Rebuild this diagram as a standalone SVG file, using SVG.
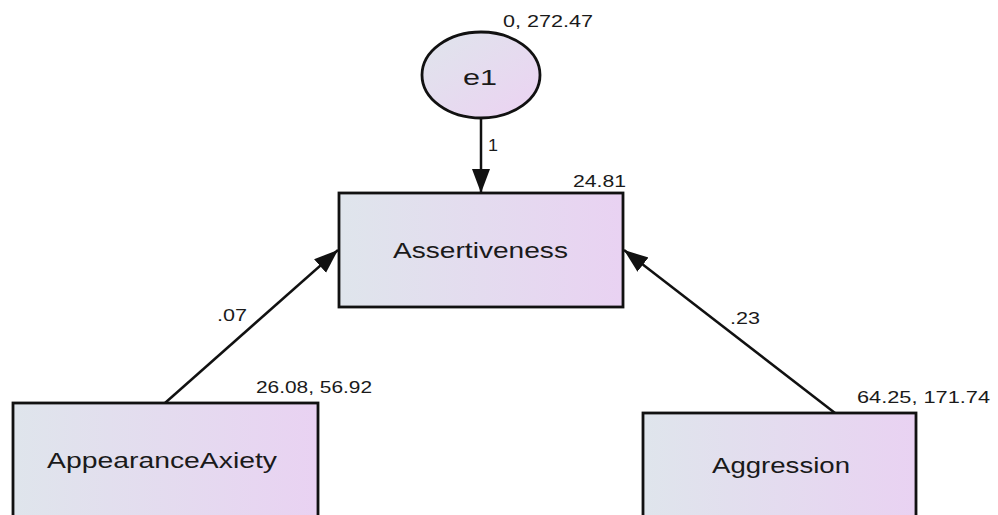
<svg xmlns="http://www.w3.org/2000/svg" width="998" height="515" viewBox="0 0 998 515">
<style>
.box{stroke:#111;stroke-width:2.8}
.lbl{font-family:"Liberation Sans",Arial,sans-serif;font-size:22px;fill:#1a1a1a}
.val{font-family:"Liberation Sans",Arial,sans-serif;font-size:16px;fill:#1a1a1a}
.edge{stroke:#111;stroke-width:2.5;fill:none}
</style>
<defs>
<linearGradient id="g" x1="0" y1="0" x2="1" y2="0">
<stop offset="0" stop-color="#dfe5ec"/>
<stop offset="1" stop-color="#e9d2f2"/>
</linearGradient>
<linearGradient id="ge" x1="0" y1="0" x2="1" y2="1">
<stop offset="0" stop-color="#dfe5ec"/>
<stop offset="1" stop-color="#ecd2f2"/>
</linearGradient>
<marker id="ah" markerUnits="userSpaceOnUse" markerWidth="26" markerHeight="20" refX="24" refY="9" orient="auto">
<path d="M0,0 L24,9 L0,18 z" fill="#111"/>
</marker>
</defs>
<rect width="998" height="515" fill="#fff"/>
<g id="connectors">
<line class="edge" x1="481" y1="118" x2="481" y2="193" marker-end="url(#ah)"/>
<line class="edge" x1="165" y1="403" x2="338" y2="250" marker-end="url(#ah)"/>
<line class="edge" x1="835" y1="413" x2="624" y2="250" marker-end="url(#ah)"/>
<text class="val" x="488" y="151" textLength="10" lengthAdjust="spacingAndGlyphs">1</text>
<text class="val" x="217" y="321" textLength="30" lengthAdjust="spacingAndGlyphs">.07</text>
<text class="val" x="730" y="324" textLength="30" lengthAdjust="spacingAndGlyphs">.23</text>
</g>
<g id="e1">
<ellipse cx="481" cy="75" rx="59" ry="43" fill="url(#ge)" class="box"/>
<text class="lbl" x="463" y="85" textLength="34" lengthAdjust="spacingAndGlyphs">e1</text>
<text class="val" x="503" y="27" textLength="90" lengthAdjust="spacingAndGlyphs">0, 272.47</text>
</g>
<g id="assertiveness">
<rect x="339" y="193" width="284" height="114" fill="url(#g)" class="box"/>
<text class="lbl" x="393" y="258" textLength="175" lengthAdjust="spacingAndGlyphs">Assertiveness</text>
<text class="val" x="573" y="187" textLength="53" lengthAdjust="spacingAndGlyphs">24.81</text>
</g>
<g id="appearance">
<rect x="13" y="403" width="305" height="130" fill="url(#g)" class="box"/>
<text class="lbl" x="47" y="468" textLength="230" lengthAdjust="spacingAndGlyphs">AppearanceAxiety</text>
<text class="val" x="256" y="393" textLength="116" lengthAdjust="spacingAndGlyphs">26.08, 56.92</text>
</g>
<g id="aggression">
<rect x="643" y="413" width="273" height="130" fill="url(#g)" class="box"/>
<text class="lbl" x="712" y="473" textLength="138" lengthAdjust="spacingAndGlyphs">Aggression</text>
<text class="val" x="857" y="403" textLength="133" lengthAdjust="spacingAndGlyphs">64.25, 171.74</text>
</g>
</svg>
